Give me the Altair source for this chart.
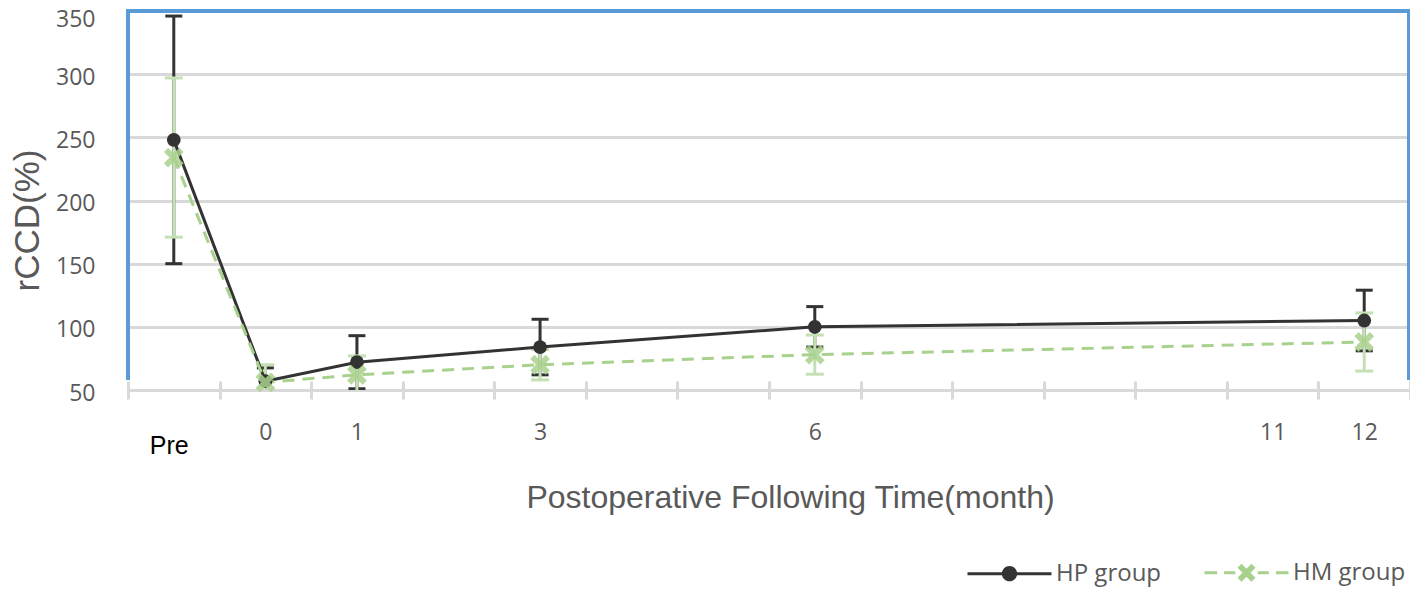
import json
import math
import altair as alt
import pandas as pd

# ---------------- data ----------------
categories = ["Pre", "0", "1", "2", "3", "4", "5", "6", "7", "8", "9", "10", "11", "12"]
shown_labels = ["Pre", "0", "1", "3", "6", "11", "12"]
y_ticks = [50, 100, 150, 200, 250, 300, 350]

time_points = ["Pre", "0", "1", "3", "6", "12"]
hp_mean = [248, 57, 72, 84, 100, 105]
hp_sd = [98, 10.5, 21, 22, 16, 24]
hm_mean = [234, 56, 62, 70, 78, 88]
hm_sd = [63, 14, 15, 12, 15.5, 23]
series_names = ["HP group", "HM group"]

# ---------------- style ----------------
HP_COLOR = "#333333"
HM_LINE = "#a9d18e"
HM_BAR = "#c5e0b4"
GRAY_TEXT = "#595959"
GRID = "#d9d9d9"
FRAME = "#5b9bd5"

W, H = 1282, 379

rows = []
for name, means, sds in [(series_names[0], hp_mean, hp_sd), (series_names[1], hm_mean, hm_sd)]:
    for t, m, s in zip(time_points, means, sds):
        rows.append({"series": name, "time": t, "idx": categories.index(t),
                     "mean": m, "lo": m - s, "hi": m + s})
df = pd.DataFrame(rows)


def poly(pts):
    return "M" + "L".join(f"{x:.3f},{y:.3f}" for x, y in pts) + "Z"


def x_shape(a, w):
    base = [(w, -a), (w, -w), (a, -w), (a, w), (w, w), (w, a), (-w, a), (-w, w),
            (-a, w), (-a, -w), (-w, -w), (-w, -a)]
    c = math.sqrt(0.5)
    return poly([((x - y) * c, (x + y) * c) for x, y in base])


def ring(r, n=32):
    return poly([(r * math.cos(2 * math.pi * i / n), r * math.sin(2 * math.pi * i / n)) for i in range(n)])


def stroke_x(a, offs):
    parts = []
    for o in offs:
        parts.append(f"M{-a + o:.3f},{-a - o:.3f}L{a + o:.3f},{a - o:.3f}")
        parts.append(f"M{-a + o:.3f},{a + o:.3f}L{a + o:.3f},{-a + o:.3f}")
    return "".join(parts)


X_MARK = x_shape(1.1, 0.3)
# legend symbols drawn with strokes only (line + marker)
LEG_HP = "M-3,0L3,0" + ring(0.44) + ring(0.3) + ring(0.16) + ring(0.04, 8)
LEG_HM = ("M-3,0L-2.1,0M-1.6,0L-0.8,0M0.8,0L1.6,0M2.1,0L3,0"
          + stroke_x(0.5, [-0.07, 0.0, 0.07]))

x_axis = alt.Axis(
    title="Postoperative Following Time(month)",
    offset=-9, domain=False, grid=False,
    tickBand="extent", tickColor=GRID, tickWidth=3, tickSize=18,
    labelExpr="indexof(" + json.dumps(shown_labels) + ", datum.value) >= 0 ? datum.label : ''",
    labelAngle=0, labelOverlap=False, labelBaseline="middle",
    labelFont={"condition": {"test": "datum.value === 'Pre'", "value": "Liberation Sans"}, "value": "Open Sans"},
    labelFontSize={"condition": {"test": "datum.value === 'Pre'", "value": 25}, "value": 23},
    labelColor={"condition": {"test": "datum.value === 'Pre'", "value": "#000000"}, "value": GRAY_TEXT},
    labelPadding={"condition": {"test": "datum.value === 'Pre'", "value": 46}, "value": 33},
    labelOffset={"condition": {"test": "datum.value === 'Pre'", "value": -5}, "value": 0},
    titleFont="Liberation Sans", titleFontSize=32, titleFontWeight="normal", titleColor=GRAY_TEXT,
    titleX=662, titleY=116, titleBaseline="middle",
)

y_axis = alt.Axis(
    values=y_ticks, title="rCCD(%)",
    grid=True, gridColor=GRID, gridWidth=3,
    domain=False, ticks=False, tickSize=0,
    labelFont="Open Sans", labelFontSize=23, labelColor=GRAY_TEXT, labelPadding=33,
    labelOffset={"condition": {"test": "datum.value === 350", "value": 8}, "value": 3},
    titleFont="Liberation Sans", titleFontSize=35, titleFontWeight="normal", titleColor=GRAY_TEXT,
    titlePadding=10, titleY=209,
)

x_scale = alt.Scale(type="band", domain=categories, paddingInner=0, paddingOuter=0)
y_scale = alt.Scale(domain=[50, 350], nice=False, zero=False)

x_enc = alt.X("time:N", scale=x_scale, axis=x_axis)

base = alt.Chart(df)
hp = base.transform_filter(alt.datum.series == series_names[0])
hm = base.transform_filter(alt.datum.series == series_names[1])

frame_left = alt.Chart(df).mark_rule(color=FRAME, strokeWidth=3).encode(
    x=alt.value(0), y=alt.value(-1.5), y2=alt.value(369))
frame_top = alt.Chart(df).mark_rule(color=FRAME, strokeWidth=3).encode(
    x=alt.value(0), x2=alt.value(W), y=alt.value(0))
frame_right = alt.Chart(df).mark_rule(color=FRAME, strokeWidth=3).encode(
    x=alt.value(W - 1.5), y=alt.value(-1.5), y2=alt.value(369))


def errbars(src, color, cap):
    bar = src.mark_rule(color=color, strokeWidth=3, clip=True).encode(
        x=x_enc, y=alt.Y("lo:Q", scale=y_scale, axis=y_axis), y2="hi:Q")
    caps = src.transform_fold(["lo", "hi"], as_=["end", "val"]).mark_tick(
        color=color, thickness=3, size=cap, clip=True, opacity=1).encode(
        x=x_enc, y=alt.Y("val:Q", scale=y_scale))
    return bar + caps


hp_err = errbars(hp, HP_COLOR, 17)
hm_err = errbars(hm, HM_BAR, 18)

hp_line = hp.mark_line(color=HP_COLOR, strokeWidth=3).encode(
    x=x_enc, y=alt.Y("mean:Q", scale=y_scale), order="idx:Q")
hm_line = hm.mark_line(color=HM_LINE, strokeWidth=3, strokeDash=[12, 8]).encode(
    x=x_enc, y=alt.Y("mean:Q", scale=y_scale), order="idx:Q")

hp_pts = hp.mark_point(shape="circle", filled=True, size=190, color=HP_COLOR, opacity=1).encode(
    x=x_enc, y=alt.Y("mean:Q", scale=y_scale))
hm_pts = hm.mark_point(shape=X_MARK, filled=True, size=400, color=HM_LINE, opacity=0.85, strokeWidth=0).encode(
    x=x_enc, y=alt.Y("mean:Q", scale=y_scale))

legend_layer = base.mark_point(opacity=0, filled=False).encode(
    x=x_enc, y=alt.Y("mean:Q", scale=y_scale),
    stroke=alt.Stroke("series:N", scale=alt.Scale(domain=series_names, range=[HP_COLOR, HM_LINE]),
                      legend=alt.Legend(title=None)),
    shape=alt.Shape("series:N", scale=alt.Scale(domain=series_names, range=[LEG_HP, LEG_HM]),
                    legend=alt.Legend(title=None)),
)

chart = alt.layer(
    frame_left, frame_top, frame_right,
    hp_err, hm_err, hp_line, hm_line, hp_pts, hm_pts, legend_layer,
).properties(
    width=W, height=H,
    padding={"left": 120, "top": 3, "right": 0, "bottom": 198},
    autosize=alt.AutoSizeParams(type="none"),
    background="white",
).configure_view(stroke=None).configure_legend(
    orient="none", legendX=866, legendY=546, direction="horizontal",
    labelFont="Open Sans", labelFontSize=24, labelColor=GRAY_TEXT,
    symbolSize=784, symbolStrokeWidth=3, symbolFillColor="transparent",
    labelOffset=31, columnPadding=36, padding=0,
)

chart.save("out.html", embed_options={"renderer": "svg", "actions": False})
